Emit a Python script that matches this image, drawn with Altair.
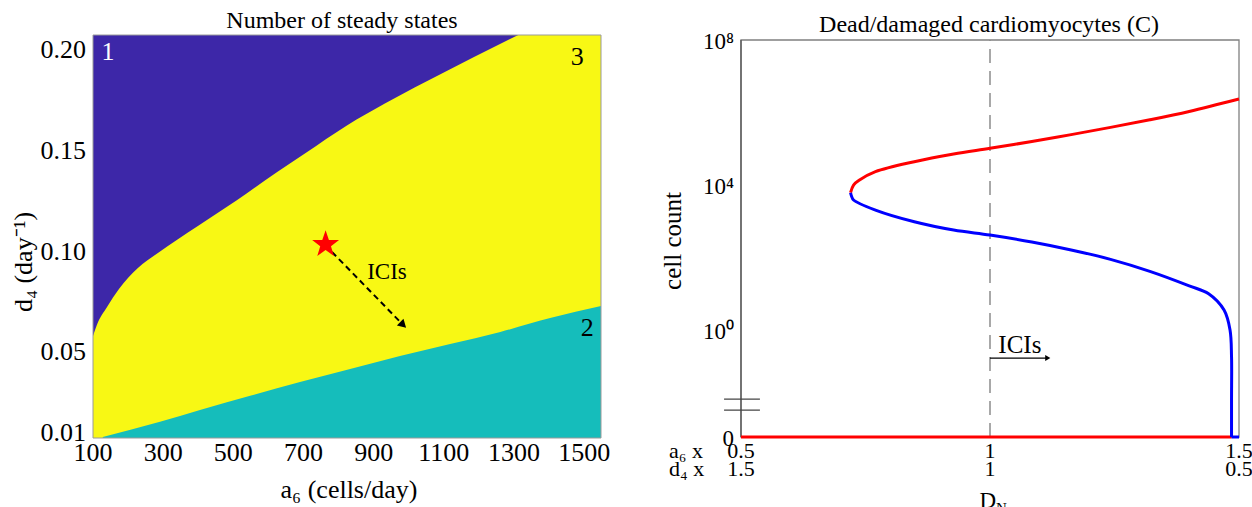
import altair as alt
import numpy as np
import pandas as pd

FONT = "Liberation Serif"

# ---------------- Left panel: number of steady states ----------------
A6_DOMAIN = [100, 1548]
D4_DOMAIN = [0.0075, 0.2074]

# boundary between region "1" (purple, above) and region "3" (yellow)
UPPER_A6 = [100, 111, 140, 174, 228, 285, 399, 511, 625, 736, 850, 961, 1075, 1186, 1312]
UPPER_D4 = [0.0581, 0.0636, 0.0725, 0.0814, 0.0918, 0.0993, 0.1127, 0.1256, 0.1395,
            0.1524, 0.1653, 0.1762, 0.1866, 0.1965, 0.2074]

# boundary between region "3" (yellow) and region "2" (teal, below)
LOWER_A6 = [128, 291, 405, 548, 690, 833, 975, 1118, 1261, 1403, 1548]
LOWER_D4 = [0.0080, 0.0155, 0.0214, 0.0284, 0.0353, 0.0417, 0.0482, 0.0541, 0.0601,
            0.0670, 0.0730]

STAR_A6, STAR_D4 = 763, 0.1042
ARROW_A6 = [781, 984]
ARROW_D4 = [0.0998, 0.0636]

REGION_TEXT = ["1", "3", "2"]
REGION_A6 = [143, 1480, 1509]
REGION_D4 = [0.199, 0.1965, 0.0621]
REGION_COLOR = ["white", "black", "black"]

LEFT_XTICKS = [100, 300, 500, 700, 900, 1100, 1300, 1500]
LEFT_YTICKS = [0.01, 0.05, 0.10, 0.15, 0.20]
LEFT_YLABELS = ["0.01", "0.05", "0.10", "0.15", "0.20"]

PURPLE, YELLOW, TEAL = "#3D27A8", "#F8F814", "#15BDBB"

# ---------------- Right panel: dead/damaged cardiomyocytes ----------------
DN_DOMAIN = [0.5, 1.5]
ZERO_POS = -2.95          # vertical position used for C = 0 (below the axis break)
LOG_DOMAIN = [ZERO_POS, 8]

RED_UP_DN = [0.720, 0.726, 0.738, 0.770, 0.848, 0.927, 1.000, 1.084, 1.163, 1.242,
             1.321, 1.400, 1.500]
RED_UP_C = [6124, 10000, 13740, 23280, 43950, 71610, 102800, 158500, 245500, 389000,
            631000, 1072000, 2355000]

BLUE_DN = [0.720, 0.722, 0.726, 0.770, 0.848, 0.927, 1.000, 1.084, 1.163, 1.242, 1.321,
           1.400, 1.439, 1.470, 1.482, 1.485, 1.485, 1.485]
BLUE_C = [6124, 4898, 3855, 2042, 972.9, 574.1, 417.8, 269.2, 162.2, 89.1, 41.7,
          16.6, 10.0, 3.55, 1.0, 0.1832, 0.01172, 0]
BLUE_TAIL_DN = [1.485, 1.500]
BLUE_TAIL_C = [0, 0]

RED_ZERO_DN = [0.5, 1.485]
RED_ZERO_C = [0, 0]

RIGHT_XTICKS = [0.5, 1.0, 1.5]
A6_MULT = ["0.5", "1", "1.5"]
D4_MULT = ["1.5", "1", "0.5"]
RIGHT_YTICK_C = [0, 1, 1e4, 1e8]
RIGHT_YLABELS = ["0", "10\u2070", "10\u2074", "10\u2078"]
BREAK_POS = [-1.903, -2.207]


def logpos(values):
    return [float(np.log10(v)) if v > 0 else ZERO_POS for v in values]


# five-pointed star symbol path (unit box)
_ang = np.deg2rad(-90 + 36 * np.arange(10))
_rad = np.where(np.arange(10) % 2 == 0, 1.0, 0.40)
STAR_PATH = "M" + "L".join(f"{r*np.cos(a):.3f},{r*np.sin(a) + 0.1:.3f}"
                           for r, a in zip(_rad, _ang)) + "Z"

LX = alt.Scale(domain=A6_DOMAIN, range=[93, 601], nice=False, zero=False)
LY = alt.Scale(domain=D4_DOMAIN, range=[438, 35], nice=False, zero=False)
RX = alt.Scale(domain=DN_DOMAIN, range=[741, 1239], nice=False, zero=False)
RY = alt.Scale(domain=LOG_DOMAIN, range=[437, 40], nice=False, zero=False)


def lx(f):
    return alt.X(f, type="quantitative", scale=LX, axis=None)


def ly(f):
    return alt.Y(f, type="quantitative", scale=LY, axis=None)


def rx(f):
    return alt.X(f, type="quantitative", scale=RX, axis=None)


def ry(f):
    return alt.Y(f, type="quantitative", scale=RY, axis=None)


layers = []

# background (yellow region)
bg = pd.DataFrame({"x": [A6_DOMAIN[0]], "x2": [A6_DOMAIN[1]],
                   "y": [D4_DOMAIN[0]], "y2": [D4_DOMAIN[1]]})
layers.append(alt.Chart(bg).mark_rect(color=YELLOW).encode(
    x=lx("x"), x2="x2", y=ly("y"), y2="y2"))

# purple region
up = pd.DataFrame({"a6": UPPER_A6, "d4": UPPER_D4, "top": D4_DOMAIN[1]})
layers.append(alt.Chart(up).mark_area(color=PURPLE, opacity=1, interpolate="monotone").encode(
    x=lx("a6"), y=ly("d4"), y2="top"))

# teal region
lo = pd.DataFrame({"a6": LOWER_A6, "d4": LOWER_D4, "bot": D4_DOMAIN[0]})
layers.append(alt.Chart(lo).mark_area(color=TEAL, opacity=1, interpolate="monotone").encode(
    x=lx("a6"), y=ly("d4"), y2="bot"))

# frame
layers.append(alt.Chart(bg).mark_rect(fillOpacity=0, stroke="#9a9a9a", strokeWidth=1).encode(
    x=lx("x"), x2="x2", y=ly("y"), y2="y2"))

# region labels
reg = pd.DataFrame({"a6": REGION_A6, "d4": REGION_D4, "t": REGION_TEXT, "c": REGION_COLOR})
layers.append(alt.Chart(reg).mark_text(font=FONT, fontSize=26, baseline="middle").encode(
    x=lx("a6"), y=ly("d4"), text="t:N", color=alt.Color("c:N", scale=None)))

# dashed arrow
arr = pd.DataFrame({"a6": ARROW_A6, "d4": ARROW_D4, "i": [0, 1]})
layers.append(alt.Chart(arr).mark_line(color="black", strokeWidth=2, strokeDash=[6, 4]).encode(
    x=lx("a6"), y=ly("d4"), order="i:Q"))
layers.append(alt.Chart(arr.iloc[[1]]).mark_point(
    shape="triangle-right", angle=44, filled=True, color="black", opacity=1, size=90).encode(
    x=lx("a6"), y=ly("d4")))
layers.append(alt.Chart(pd.DataFrame({"a6": [938], "d4": [0.0899], "t": ["ICIs"]})).mark_text(
    font=FONT, fontSize=23, baseline="middle").encode(x=lx("a6"), y=ly("d4"), text="t:N"))

# star
layers.append(alt.Chart(pd.DataFrame({"a6": [STAR_A6], "d4": [STAR_D4]})).mark_point(
    shape=STAR_PATH, filled=True, color="#FF0000", opacity=1, size=800).encode(
    x=lx("a6"), y=ly("d4")))

# left ticks labels
layers.append(alt.Chart(pd.DataFrame({"a6": LEFT_XTICKS, "t": [str(v) for v in LEFT_XTICKS]}))
              .mark_text(font=FONT, fontSize=26, baseline="middle").encode(
    x=lx("a6"), y=alt.value(453), text="t:N"))
layers.append(alt.Chart(pd.DataFrame({"d4": LEFT_YTICKS, "t": LEFT_YLABELS}))
              .mark_text(font=FONT, fontSize=26, baseline="middle", align="right").encode(
    x=alt.value(86), y=ly("d4"), text="t:N"))


def label(txt, x, y, size, angle=0, align="center", baseline="middle", color="black"):
    kw = dict(font=FONT, fontSize=size, align=align, baseline=baseline, color=color)
    if angle:
        kw["angle"] = angle
    return alt.Chart(pd.DataFrame({"t": [txt]})).mark_text(**kw).encode(
        x=alt.value(x), y=alt.value(y), text="t:N")


layers.append(label("Number of steady states", 342, 21, 24))
layers.append(label("a\u2086 (cells/day)", 349, 490, 26))
layers.append(label("d\u2084 (day\u207b\u00b9)", 24, 262, 26, angle=270))

# ---------------- right panel layers ----------------
frame = pd.DataFrame({"x": [DN_DOMAIN[0]], "x2": [DN_DOMAIN[1]], "y": [ZERO_POS], "y2": [8]})
layers.append(alt.Chart(frame).mark_rect(fillOpacity=0, stroke="#808080", strokeWidth=1.3).encode(
    x=rx("x"), x2="x2", y=ry("y"), y2="y2"))

layers.append(alt.Chart(pd.DataFrame({"x": [0.5], "y": [ZERO_POS], "y2": [8]})).mark_rule(
    color="#555555", strokeWidth=1.3).encode(x=rx("x"), y=ry("y"), y2="y2"))

brk = pd.DataFrame({"x": [0.466, 0.466], "x2": [0.538, 0.538], "y": BREAK_POS})
layers.append(alt.Chart(brk).mark_rule(color="#444444", strokeWidth=1.3).encode(
    x=rx("x"), x2="x2", y=ry("y")))

layers.append(alt.Chart(pd.DataFrame({"x": [1.0], "y": [ZERO_POS], "y2": [8]})).mark_rule(
    color="#8c8c8c", strokeWidth=1.5, strokeDash=[14, 8]).encode(x=rx("x"), y=ry("y"), y2="y2"))


def curve(xs, cs, color, interp="linear"):
    df = pd.DataFrame({"x": xs, "p": logpos(cs), "i": list(range(len(xs)))})
    return alt.Chart(df).mark_line(color=color, strokeWidth=3, interpolate=interp).encode(
        x=rx("x"), y=ry("p"), order="i:Q")


layers.append(curve(RED_ZERO_DN, RED_ZERO_C, "#FF0000"))
layers.append(curve(RED_UP_DN, RED_UP_C, "#FF0000", "catmull-rom"))
layers.append(curve(BLUE_DN, BLUE_C, "#0000FF", "catmull-rom"))
layers.append(curve(BLUE_TAIL_DN, BLUE_TAIL_C, "#0000FF"))

rarr = pd.DataFrame({"x": [1.0, 1.116], "y": [-0.772, -0.772], "i": [0, 1]})
layers.append(alt.Chart(rarr).mark_line(color="black", strokeWidth=1.2).encode(
    x=rx("x"), y=ry("y"), order="i:Q"))
layers.append(alt.Chart(rarr.iloc[[1]]).mark_point(
    shape="triangle-right", filled=True, color="black", opacity=1, size=35).encode(
    x=rx("x"), y=ry("y")))
layers.append(alt.Chart(pd.DataFrame({"x": [1.06], "y": [-0.414], "t": ["ICIs"]})).mark_text(
    font=FONT, fontSize=25, baseline="middle").encode(x=rx("x"), y=ry("y"), text="t:N"))

layers.append(alt.Chart(pd.DataFrame({"x": RIGHT_XTICKS, "t": A6_MULT})).mark_text(
    font=FONT, fontSize=22, baseline="middle").encode(x=rx("x"), y=alt.value(451), text="t:N"))
layers.append(alt.Chart(pd.DataFrame({"x": RIGHT_XTICKS, "t": D4_MULT})).mark_text(
    font=FONT, fontSize=22, baseline="middle").encode(x=rx("x"), y=alt.value(469), text="t:N"))
layers.append(alt.Chart(pd.DataFrame({"p": logpos(RIGHT_YTICK_C), "t": RIGHT_YLABELS})).mark_text(
    font=FONT, fontSize=23, baseline="middle", align="right", dy=2).encode(
    x=alt.value(734), y=ry("p"), text="t:N"))

layers.append(label("a\u2086 x", 669, 451, 22, align="left"))
layers.append(label("d\u2084 x", 669, 469, 22, align="left"))
layers.append(label("D", 996, 508, 23, align="right", baseline="alphabetic"))
layers.append(label("N", 996, 513, 15, align="left", baseline="alphabetic"))
layers.append(label("Dead/damaged cardiomyocytes (C)", 989, 25, 24))
layers.append(label("cell count", 673, 241, 25, angle=270))

chart = alt.layer(*layers).resolve_scale(x="independent", y="independent").properties(
    width=1252, height=507, padding=0, background="white",
    autosize=alt.AutoSizeParams(type="none"),
).configure_view(stroke=None)

chart.save("out.html", embed_options={"renderer": "svg", "actions": False})
